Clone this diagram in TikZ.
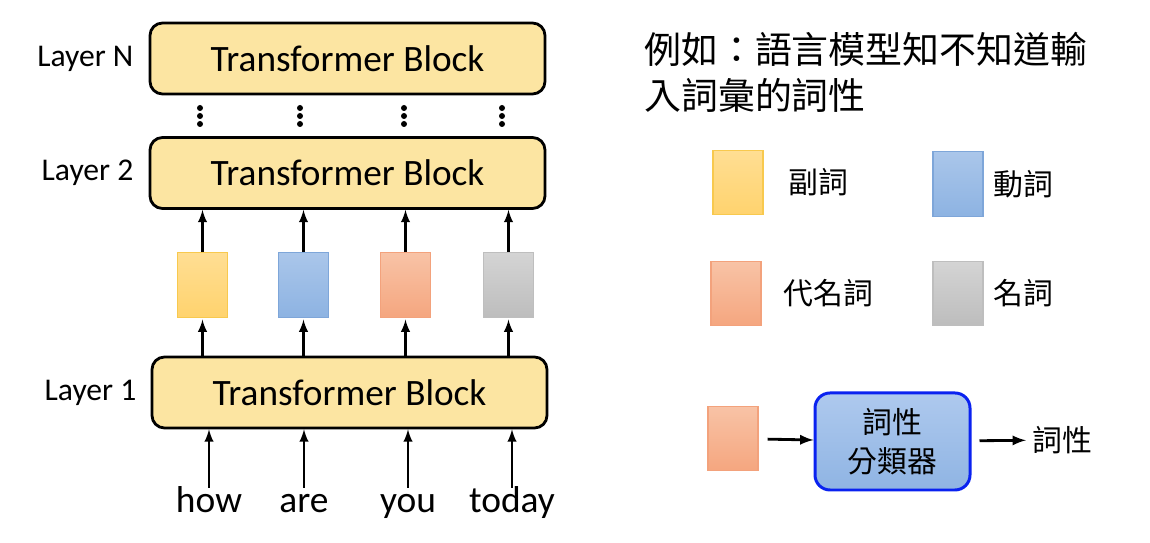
\documentclass[tikz,border=0pt]{standalone}
\usepackage{fontspec}
\setmainfont{Carlito}
\newfontfamily\cjk{Noto Sans CJK TC}
\usepackage{tikz}
\tikzset{>=latex}
\usetikzlibrary{positioning}
\definecolor{blockfill}{HTML}{FCE5A2}
\definecolor{advtop}{HTML}{FFDE93}
\definecolor{advbot}{HTML}{FFD36E}
\definecolor{advline}{HTML}{F8C94E}
\definecolor{verbtop}{HTML}{AAC6EA}
\definecolor{verbbot}{HTML}{8DB3E2}
\definecolor{verbline}{HTML}{7EA6D9}
\definecolor{prontop}{HTML}{F8C3A6}
\definecolor{pronbot}{HTML}{F5A67F}
\definecolor{pronline}{HTML}{F3A27C}
\definecolor{nountop}{HTML}{D4D4D4}
\definecolor{nounbot}{HTML}{BDBDBD}
\definecolor{nounline}{HTML}{BEBEBE}
\definecolor{clsline}{HTML}{0A22F0}
\definecolor{clstop}{HTML}{AEC9EE}
\definecolor{clsbot}{HTML}{8FB4E3}

\tikzset{
    block/.style={draw, line width=1.6pt, rounded corners=0.25cm, fill=blockfill, minimum width=7.9cm, minimum height=1.42cm, font=\fontsize{21.2}{24}\selectfont},
    tag/.style={minimum width=1cm, minimum height=1.29cm, line width=0.6pt},
    adv/.style={tag, draw=advline, top color=advtop, bottom color=advbot},
    verb/.style={tag, draw=verbline, top color=verbtop, bottom color=verbbot},
    pron/.style={tag, draw=pronline, top color=prontop, bottom color=pronbot},
    noun/.style={tag, draw=nounline, top color=nountop, bottom color=nounbot},
    layer/.style={font=\fontsize{18}{21}\selectfont},
    word/.style={font=\fontsize{21.3}{25}\selectfont, text height=0.75em, text depth=0.22em, anchor=base},
    zh/.style={font=\cjk\fontsize{17}{20}\selectfont},
    cls/.style={draw=clsline, line width=1.7pt, rounded corners=0.3cm, top color=clstop, bottom color=clsbot, minimum width=3.1cm, minimum height=1.94cm, align=center, font=\cjk\fontsize{17}{22}\selectfont},
    flow/.style={->, line width=1.4pt},
}

\begin{document}
\begin{tikzpicture}
    \useasboundingbox (0, 0) rectangle (23, 10.86);

    % transformer stack
    \node [block] (LN) at (6.95, 9.69) {Transformer Block};
    \node [block] (L2) at (6.95, 7.40) {Transformer Block};
    \node [block] (L1) at (6.99, 3.01) {Transformer Block};

    \node [layer, left=0.18cm of LN] (labN) {Layer N};
    \node [layer, left=0.18cm of L2] (lab2) {Layer 2};
    \node [layer, left=0.16cm of L1] (lab1) {Layer 1};

    \foreach \x in {4.0, 6.0, 8.08, 10.04}
        \foreach \y in {8.70, 8.54, 8.38}
            \fill (\x, \y) circle (0.06);

    % hidden vectors
    \node [adv] (t1) at (4.05, 5.16) {};
    \node [verb] (t2) at (6.07, 5.16) {};
    \node [pron] (t3) at (8.11, 5.16) {};
    \node [noun] (t4) at (10.17, 5.16) {};

    \foreach \t in {t1, t2, t3, t4} {
        \draw [flow] (\t.north) -- (\t.north |- L2.south);
        \draw [flow, shorten >=1pt] (\t.south |- L1.north) -- (\t.south);
    }

    % input words
    \node [word] (w1) at (4.18, 0.6) {how};
    \node [word] (w2) at (6.08, 0.6) {are};
    \node [word] (w3) at (8.16, 0.6) {you};
    \node [word] (w4) at (10.24, 0.6) {today};

    \foreach \w in {w1, w2, w3, w4}
        \draw [flow, shorten <=0.12cm] (\w.north) -- (\w.north |- L1.south);

    % question and legend
    \node [anchor=north west, inner sep=0, align=left, font=\cjk\fontsize{21}{26}\selectfont] (q) at (12.88, 10.22) {例如：語言模型知不知道輸\\入詞彙的詞性};

    \node [adv] (kadv) at (14.76, 7.21) {};
    \node [zh, right=0.38cm of kadv] (ladv) {副詞};
    \node [verb] (kverb) at (19.16, 7.18) {};
    \node [zh, right=0.08cm of kverb] (lverb) {動詞};
    \node [pron] (kpron) at (14.72, 4.99) {};
    \node [zh, right=0.32cm of kpron] (lpron) {代名詞};
    \node [noun] (knoun) at (19.16, 4.99) {};
    \node [zh, right=0.08cm of knoun] (lnoun) {名詞};

    % classifier
    \node [pron] (x) at (14.66, 2.09) {};
    \node [cls] (c) at (17.85, 2.03) {詞性\\分類器};
    \node [zh] (pos) at (21.24, 2.06) {詞性};

    \draw [flow, line width=1.6pt, shorten <=0.18cm] (x) -- (c);
    \draw [flow, line width=1.6pt, shorten <=0.16cm] (c) -- (pos);
\end{tikzpicture}
\end{document}
